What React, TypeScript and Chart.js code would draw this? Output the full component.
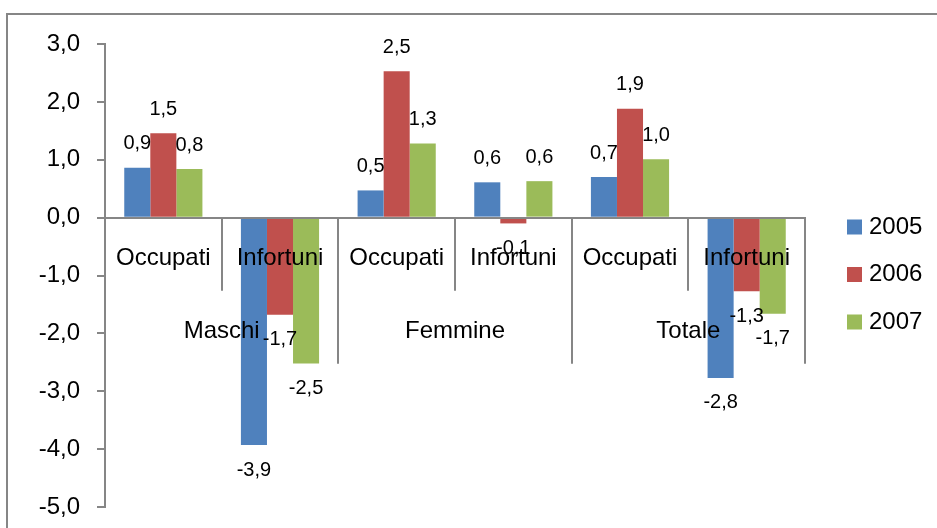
import React, { useEffect, useRef } from "react";
import { Chart, registerables } from "chart.js";

Chart.register(...registerables);

const categories = ["Occupati", "Infortuni", "Occupati", "Infortuni", "Occupati", "Infortuni"];
const groups = ["Maschi", "Femmine", "Totale"];
const years = ["2005", "2006", "2007"];
const values2005 = [0.86, -3.93, 0.47, 0.61, 0.7, -2.77];
const values2006 = [1.46, -1.68, 2.53, -0.1, 1.88, -1.27];
const values2007 = [0.84, -2.52, 1.28, 0.63, 1.01, -1.66];
const yTicks = [3, 2, 1, 0, -1, -2, -3, -4, -5];

const colors = ["#4F81BD", "#C0504D", "#9BBB59"];
const FONT = "'Liberation Sans', Arial, sans-serif";
const GRAY = "#868686";

const fmt = (v: number) => v.toFixed(1).replace(".", ",");

const decorPlugin = {
  id: "decor",
  beforeDraw(chart: any) {
    const ctx = chart.ctx;
    ctx.save();
    ctx.fillStyle = "#ffffff";
    ctx.fillRect(0, 0, chart.width, chart.height);
    ctx.strokeStyle = GRAY;
    ctx.lineWidth = 2;
    ctx.strokeRect(7, 14, chart.width + 20, chart.height + 20);
    ctx.restore();
  },
  afterDraw(chart: any) {
    const ctx = chart.ctx;
    const xs = chart.scales.x;
    const ys = chart.scales.y;
    const y0 = ys.getPixelForValue(0);
    const n = categories.length;
    const cw = (xs.right - xs.left) / n;
    ctx.save();
    // separators
    ctx.strokeStyle = GRAY;
    ctx.lineWidth = 2;
    for (let i = 0; i <= n; i++) {
      const x = Math.round(xs.left + i * cw);
      const len = i % 2 === 0 ? 146 : 73;
      ctx.beginPath();
      ctx.moveTo(x, y0);
      ctx.lineTo(x, y0 + len);
      ctx.stroke();
    }
    // category labels (drawn over the bars)
    ctx.fillStyle = "#000";
    ctx.font = `24px ${FONT}`;
    ctx.textAlign = "center";
    ctx.textBaseline = "middle";
    chart.data.labels.forEach((lab: string, i: number) => {
      ctx.fillText(lab, xs.getPixelForValue(i), y0 + 41);
    });
    // group labels
    groups.forEach((g, i) => {
      const x = xs.left + (2 * i + 1) * cw;
      ctx.fillText(g, x, y0 + 114);
    });
    // data labels
    ctx.font = `20px ${FONT}`;
    chart.data.datasets.forEach((ds: any, di: number) => {
      const meta = chart.getDatasetMeta(di);
      meta.data.forEach((bar: any, i: number) => {
        const v = ds.data[i];
        const y = v >= 0 ? bar.y - 24 : bar.y + 25;
        ctx.fillText(fmt(v), bar.x, y);
      });
    });
    // legend
    ctx.font = `24px ${FONT}`;
    ctx.textAlign = "left";
    chart.data.datasets.forEach((ds: any, di: number) => {
      const cy = 227 + di * 47.5;
      ctx.fillStyle = ds.backgroundColor;
      ctx.fillRect(847, cy - 7.5, 15, 15);
      ctx.fillStyle = "#000";
      ctx.fillText(ds.label, 869, cy);
    });
    ctx.restore();
  },
};

export default function App() {
  const ref = useRef<HTMLCanvasElement>(null);
  useEffect(() => {
    if (!ref.current) return;
    const chart = new Chart(ref.current, {
      type: "bar",
      data: {
        labels: categories,
        datasets: [values2005, values2006, values2007].map((d, i) => ({
          label: years[i],
          data: d,
          backgroundColor: colors[i],
          borderWidth: 0,
          categoryPercentage: 0.67,
          barPercentage: 1,
        })),
      },
      options: {
        responsive: false,
        animation: false,
        layout: { padding: { left: 0, top: 44, right: 132, bottom: 21 } },
        plugins: { legend: { display: false }, tooltip: { enabled: false }, title: { display: false } },
        scales: {
          x: {
            type: "category",
            position: { y: 0 } as any,
            grid: { display: false, drawTicks: false },
            border: { display: true, color: GRAY, width: 2, z: 1 },
            ticks: { display: false },
          },
          y: {
            min: -5,
            max: 3,
            afterFit: (s: any) => {
              s.width = 105;
              s.paddingTop = 0;
              s.paddingBottom = 0;
            },
            afterBuildTicks: (s: any) => {
              s.ticks = yTicks.map((v) => ({ value: v }));
            },
            grid: { display: true, drawOnChartArea: false, drawTicks: true, tickLength: 8, color: GRAY, lineWidth: 2 },
            border: { display: true, color: GRAY, width: 2 },
            ticks: {
              color: "#000",
              font: { family: FONT, size: 24 },
              padding: 17,
              callback: (v: any) => fmt(Number(v)),
            },
          },
        },
      },
      plugins: [decorPlugin],
    });
    return () => chart.destroy();
  }, []);
  return (
    <div style={{ position: "absolute", left: 0, top: 0, width: 937, height: 528, overflow: "hidden" }}>
      <canvas ref={ref} width={937} height={528} />
    </div>
  );
}
